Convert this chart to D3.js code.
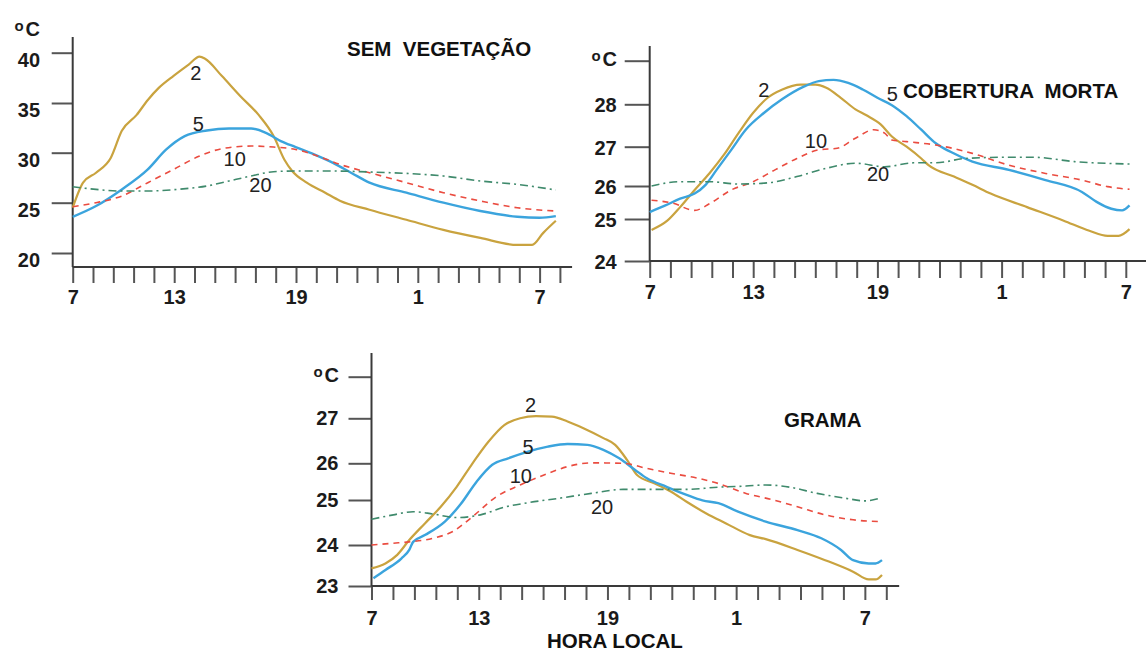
<!DOCTYPE html>
<html>
<head>
<meta charset="utf-8">
<script src="https://cdn.jsdelivr.net/npm/d3@7"></script>
<style>
  body { margin: 0; background: #fff; }
  svg { display: block; font-family: "Liberation Sans", Arial, sans-serif; }
</style>
</head>
<body>
<svg id="viz"></svg>
<script>
var width = 1146;
var height = 652;

// hour index 0..24 along x, labelled every 6 h (as printed on the original)
var hourTicks = d3.range(0, 25);
var hourLabels = { 0: "7", 5: "13", 11: "19", 17: "1", 23: "7" };

var depths = ["2", "5", "10", "20"];

// ---- SEM VEGETAÇÃO : [hour index, °C]
var semVegTicks = [20, 25, 30, 35, 40];
var semVeg2 = [[0, 24.5], [0.51, 27], [1.15, 28], [1.88, 29.5], [2.42, 32.2], [3.15, 33.8], [3.7, 35.3], [4.24, 36.5],
  [4.97, 37.7], [5.7, 38.8], [6.25, 39.6], [6.52, 39.4], [7.34, 37.7], [8.25, 35.7], [9.16, 33.8], [9.89, 31.7],
  [10.43, 29.3], [10.8, 28.2], [11.53, 27], [12.44, 26], [13.16, 25.2], [14.62, 24.3], [16.44, 23.3], [18.26, 22.3],
  [20.08, 21.5], [21.9, 20.8], [22.63, 20.8], [23.18, 22], [23.8, 23.2]];
var semVeg5 = [[0, 23.6], [1.15, 24.67], [2.42, 26.33], [3.7, 28.33], [4.61, 30.33], [5.52, 31.67], [6.61, 32.23],
  [7.7, 32.43], [8.79, 32.43], [9.52, 32.0], [10.25, 31.17], [10.98, 30.57], [11.89, 29.83], [12.8, 29.0],
  [13.71, 28.0], [14.62, 27.0], [16.44, 26.0], [18.26, 25.0], [20.08, 24.17], [21.9, 23.6], [23.0, 23.5], [23.8, 23.67]];
var semVeg10 = [[0, 24.6], [1.15, 25.0], [2.42, 25.67], [3.7, 27.0], [4.97, 28.33], [6.25, 29.67], [7.34, 30.4],
  [8.79, 30.67], [9.89, 30.57], [10.98, 30.33], [12.07, 29.67], [13.16, 28.83], [14.62, 28.0], [16.44, 27.0],
  [18.26, 26.0], [20.08, 25.17], [21.9, 24.5], [23.8, 24.17]];
var semVeg20 = [[0, 26.6], [1.15, 26.33], [2.24, 26.17], [3.7, 26.17], [5.15, 26.33], [6.61, 26.67], [7.7, 27.17],
  [8.79, 27.67], [9.89, 28.1], [10.98, 28.17], [12.8, 28.17], [14.62, 28.07], [16.44, 27.93], [18.26, 27.67],
  [20.08, 27.17], [21.9, 26.83], [23.8, 26.27]];
var semVegLabels = [[6.07, 38.0], [6.19, 32.87], [7.98, 29.4], [9.25, 26.8]];

// ---- COBERTURA MORTA
var cobTicks = [24, 25, 26, 27, 28, 29];
var cob2 = [[0.09, 24.74], [0.85, 24.96], [1.47, 25.36], [2.17, 25.88], [2.88, 26.32], [3.58, 26.79], [4.29, 27.32],
  [5.0, 27.8], [5.7, 28.15], [6.41, 28.34], [7.29, 28.45], [8.0, 28.45], [8.53, 28.38], [9.23, 28.15], [9.94, 27.88],
  [10.47, 27.74], [11.17, 27.52], [11.7, 27.24], [12.41, 27.0], [13.12, 26.7], [13.47, 26.53], [14.7, 26.24],
  [15.59, 26.03], [16.47, 25.77], [18.23, 25.36], [20.0, 24.96], [21.24, 24.72], [22.12, 24.6], [22.65, 24.6], [23.18, 24.76]];
var cob5 = [[0, 25.21], [0.76, 25.41], [1.47, 25.62], [2.17, 25.77], [2.7, 26.03], [3.23, 26.41], [3.94, 26.92],
  [4.64, 27.4], [5.53, 27.8], [6.41, 28.12], [7.47, 28.41], [8.17, 28.53], [8.88, 28.56], [9.59, 28.49], [10.29, 28.34],
  [11.0, 28.15], [11.7, 27.98], [12.41, 27.72], [13.12, 27.4], [13.82, 27.08], [14.53, 26.87], [15.59, 26.62],
  [17.35, 26.41], [19.12, 26.15], [20.88, 25.82], [21.59, 25.52], [22.3, 25.31], [22.82, 25.26], [23.18, 25.41]];
var cob10 = [[0.09, 25.57], [1.11, 25.48], [2.17, 25.26], [2.88, 25.46], [3.94, 25.88], [5.0, 26.11], [6.05, 26.41],
  [7.11, 26.7], [8.17, 26.92], [9.06, 26.96], [9.94, 27.2], [10.82, 27.4], [11.35, 27.32], [11.7, 27.16],
  [12.41, 27.12], [13.82, 27.04], [15.59, 26.83], [17.35, 26.53], [19.12, 26.32], [20.88, 26.15], [22.12, 25.98], [23.18, 25.9]];
var cob20 = [[0.09, 26.0], [1.47, 26.11], [2.88, 26.11], [4.29, 26.05], [5.7, 26.08], [7.11, 26.24], [8.53, 26.45],
  [9.94, 26.58], [11.35, 26.49], [12.76, 26.59], [13.82, 26.59], [15.23, 26.7], [16.99, 26.73], [18.59, 26.73],
  [20.53, 26.62], [23.18, 26.56]];
var cobLabels = [[5.51, 28.33], [11.72, 28.24], [8.03, 27.14], [11.03, 26.31]];

// ---- GRAMA
var gramaTicks = [23, 24, 25, 26, 27, 28];
var grama2 = [[0, 23.43], [0.65, 23.55], [1.2, 23.76], [1.76, 24.11], [2.49, 24.48], [3.23, 24.85], [3.97, 25.36],
  [4.71, 26.0], [5.45, 26.48], [6.19, 26.85], [6.93, 27.0], [7.67, 27.05], [8.41, 27.04], [9.14, 26.93], [9.88, 26.78],
  [10.81, 26.56], [11.36, 26.41], [11.92, 26.07], [12.38, 25.68], [13.21, 25.45], [13.95, 25.23], [14.69, 24.96],
  [15.61, 24.7], [16.53, 24.48], [17.64, 24.22], [18.38, 24.13], [19.86, 23.88], [21.15, 23.63], [22.45, 23.35],
  [23.18, 23.16], [23.5, 23.16], [23.8, 23.27]];
var grama5 = [[0.09, 23.19], [0.65, 23.39], [1.39, 23.67], [1.76, 23.88], [1.94, 24.07], [2.49, 24.22], [3.42, 24.52],
  [4.16, 24.91], [4.9, 25.5], [5.63, 25.96], [6.37, 26.11], [7.3, 26.26], [8.22, 26.37], [9.14, 26.43], [10.07, 26.41],
  [10.81, 26.3], [11.55, 26.11], [12.29, 25.82], [12.84, 25.59], [13.76, 25.36], [14.69, 25.14], [15.43, 24.99],
  [16.17, 24.93], [17.09, 24.74], [18.38, 24.52], [19.86, 24.33], [20.97, 24.15], [21.89, 23.88], [22.45, 23.63],
  [23.18, 23.55], [23.5, 23.55], [23.8, 23.63]];
var grama10 = [[0, 24.0], [1.02, 24.04], [1.76, 24.07], [2.86, 24.15], [3.79, 24.3], [4.71, 24.63], [5.82, 25.09],
  [6.93, 25.41], [8.04, 25.68], [9.14, 25.91], [10.25, 26.01], [11.73, 26.0], [12.84, 25.86], [13.95, 25.73],
  [15.24, 25.59], [16.17, 25.45], [17.46, 25.18], [18.75, 25.0], [19.86, 24.85], [21.15, 24.67], [22.45, 24.56], [23.7, 24.52]];
var grama20 = [[0, 24.57], [1.02, 24.67], [1.94, 24.74], [2.86, 24.69], [3.97, 24.61], [5.08, 24.67], [6.19, 24.84],
  [7.3, 24.94], [8.78, 25.05], [10.25, 25.18], [11.73, 25.29], [13.21, 25.29], [14.69, 25.29], [16.17, 25.35],
  [17.46, 25.38], [18.38, 25.41], [19.49, 25.35], [20.78, 25.18], [22.08, 25.05], [23.0, 24.98], [23.7, 25.05]];
var gramaLabels = [[7.41, 27.32], [7.3, 26.37], [6.96, 25.66], [10.75, 24.84]];

// line look per depth
var styles = {
  "2": { color: "#c9a33f", width: 2.2, dash: null },
  "5": { color: "#3ba4dd", width: 2.4, dash: null },
  "10": { color: "#ea4c40", width: 1.6, dash: "6,5" },
  "20": { color: "#3f8a6c", width: 1.6, dash: "8,4,2,4" }
};

// layout of the three panels (pixels)
var panels = [
  { title: "SEM  VEGETAÇÃO", titleX: 347, titleY: 56,
    series: [semVeg2, semVeg5, semVeg10, semVeg20], labels: semVegLabels, yTicks: semVegTicks, unitTick: false,
    x0: 72.7, step: 20.3, axisEnd: 24.6,
    yRange: [253, 202.7, 152.7, 103, 52.7], axisY: 267, axisTop: 37,
    yTick: 21, yPad: 11.7, yShift: 7, xTick: 16, xPad: 7, unitX: 40, unitY: 36 },
  { title: "COBERTURA  MORTA", titleX: 903, titleY: 98,
    series: [cob2, cob5, cob10, cob20], labels: cobLabels, yTicks: cobTicks, unitTick: true,
    x0: 649.7, step: 20.7, axisEnd: 24.2,
    yRange: [261, 219, 186, 146.7, 104.3, 60.7], axisY: 261, axisTop: 46,
    yTick: 25, yPad: 8, yShift: 1, xTick: 17, xPad: 7, unitX: 617, unitY: 66 },
  { title: "GRAMA", titleX: 784, titleY: 427,
    series: [grama2, grama5, grama10, grama20], labels: gramaLabels, yTicks: gramaTicks, unitTick: true,
    x0: 371.5, step: 21.45, axisEnd: 24.6,
    yRange: [586, 545, 500, 463.3, 418.3, 376.7], axisY: 586, axisTop: 353,
    yTick: 23, yPad: 10, yShift: 0, xTick: 14, xPad: 10.5, unitX: 339, unitY: 382 }
];

var svg = d3.select("#viz").attr("width", width).attr("height", height);

panels.forEach(function (p) {
  var g = svg.append("g");

  var x = d3.scaleLinear().domain([0, 24]).range([p.x0, p.x0 + 24 * p.step]);
  // the printed y axes are not evenly spaced, so map tick by tick
  var y = d3.scaleLinear().domain(p.yTicks).range(p.yRange);

  var labelTicks = p.unitTick ? p.yTicks.slice(0, -1) : p.yTicks;

  // y axis
  var yAxis = g.append("g")
    .attr("transform", "translate(" + p.x0 + ",0)")
    .call(d3.axisLeft(y).tickValues(p.yTicks).tickSize(p.yTick).tickPadding(p.yPad)
      .tickFormat(function (d) { return labelTicks.indexOf(d) >= 0 ? d : ""; }));
  yAxis.select(".domain").remove();
  yAxis.selectAll(".tick line").attr("stroke", "#555").attr("stroke-width", 2);
  yAxis.selectAll(".tick text")
    .attr("y", p.yShift)
    .attr("fill", "#1b1b1b")
    .attr("font-family", "Liberation Sans, Arial, sans-serif")
    .attr("font-size", 20).attr("font-weight", "bold");
  if (!p.unitTick) yAxis.selectAll(".tick").filter(function (d) { return false; });

  // x axis
  var xAxis = g.append("g")
    .attr("transform", "translate(0," + p.axisY + ")")
    .call(d3.axisBottom(x).tickValues(hourTicks).tickSize(p.xTick).tickPadding(p.xPad)
      .tickFormat(function (d) { return hourLabels[d] || ""; }));
  xAxis.select(".domain").remove();
  xAxis.selectAll(".tick line").attr("stroke", "#555").attr("stroke-width", 2);
  xAxis.selectAll(".tick text")
    .attr("fill", "#1b1b1b")
    .attr("font-family", "Liberation Sans, Arial, sans-serif")
    .attr("font-size", 20).attr("font-weight", "bold");

  // axis lines
  g.append("line")
    .attr("x1", p.x0).attr("x2", p.x0)
    .attr("y1", p.axisTop).attr("y2", p.axisY)
    .attr("stroke", "#3a3a3a").attr("stroke-width", 2);
  g.append("line")
    .attr("x1", p.x0).attr("x2", x(p.axisEnd))
    .attr("y1", p.axisY).attr("y2", p.axisY)
    .attr("stroke", "#3a3a3a").attr("stroke-width", 2);

  // unit
  var unit = g.append("text")
    .attr("x", p.unitX).attr("y", p.unitY)
    .attr("text-anchor", "end")
    .attr("fill", "#1b1b1b")
    .attr("font-weight", "bold");
  unit.append("tspan").attr("font-size", 15).attr("dy", -5).text("o");
  unit.append("tspan").attr("font-size", 20).attr("dy", 5).attr("dx", 2).text("C");

  // curves
  var line = d3.line()
    .x(function (d) { return x(d[0]); })
    .y(function (d) { return y(d[1]); })
    .curve(d3.curveMonotoneX);

  p.series.forEach(function (s, k) {
    var st = styles[depths[k]];
    g.append("path")
      .datum(s)
      .attr("d", line)
      .attr("fill", "none")
      .attr("stroke", st.color)
      .attr("stroke-width", st.width)
      .attr("stroke-dasharray", st.dash)
      .attr("stroke-linejoin", "round");
  });

  // depth labels
  g.selectAll(".depth")
    .data(p.labels)
    .enter().append("text")
    .attr("class", "depth")
    .attr("x", function (d) { return x(d[0]); })
    .attr("y", function (d) { return y(d[1]); })
    .attr("dy", "0.36em")
    .attr("text-anchor", "middle")
    .attr("font-size", 20)
    .attr("fill", "#222")
    .text(function (d, k) { return depths[k]; });

  // title
  g.append("text")
    .attr("x", p.titleX).attr("y", p.titleY)
    .style("white-space", "pre")
    .attr("font-size", 20.5)
    .attr("font-weight", "bold")
    .attr("fill", "#111")
    .text(p.title);
});

svg.append("text")
  .attr("x", 547).attr("y", 648)
  .attr("font-size", 20.5)
  .attr("font-weight", "bold")
  .attr("fill", "#111")
  .text("HORA LOCAL");
</script>
</body>
</html>
